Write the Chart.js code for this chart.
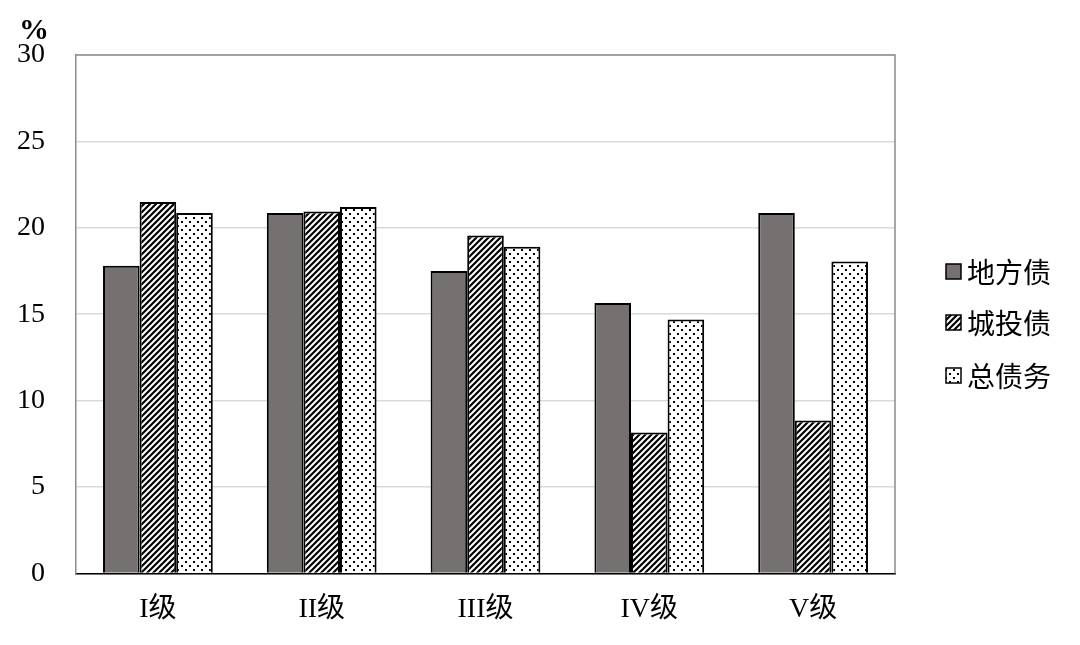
<!DOCTYPE html>
<html>
<head>
<meta charset="utf-8">
<script src="https://cdn.jsdelivr.net/npm/chart.js@4/dist/chart.umd.min.js"></script>
<style>
  html, body { margin: 0; padding: 0; background: #fff; }
  #wrap { width: 1080px; height: 645px; position: relative; }
</style>
</head>
<body>
<div id="wrap"><canvas id="debtChart"></canvas></div>
<script>
var categories = ['I级', 'II级', 'III级', 'IV级', 'V级'];
var seriesNames = ['地方债', '城投债', '总债务'];
var localDebt = [17.8, 20.85, 17.5, 15.65, 20.85];
var urbanDebt = [21.5, 20.95, 19.55, 8.15, 8.85];
var totalDebt = [20.85, 21.2, 18.9, 14.7, 18.05];
var yTicks = [0, 5, 10, 15, 20, 25, 30];

var FONT = '"Liberation Serif", "Noto Sans CJK SC", serif';

function stripePattern() {
    var c = document.createElement('canvas');
    c.width = 6; c.height = 6;
    var g = c.getContext('2d');
    g.fillStyle = '#fff';
    g.fillRect(0, 0, 6, 6);
    g.strokeStyle = '#000';
    g.lineWidth = 2.2;
    g.beginPath();
    g.moveTo(-3, 3); g.lineTo(3, -3);
    g.moveTo(0, 6); g.lineTo(6, 0);
    g.moveTo(3, 9); g.lineTo(9, 3);
    g.stroke();
    return g.createPattern(c, 'repeat');
}

function dotPattern() {
    var c = document.createElement('canvas');
    c.width = 8; c.height = 8;
    var g = c.getContext('2d');
    g.fillStyle = '#fff';
    g.fillRect(0, 0, 8, 8);
    g.fillStyle = '#000';
    g.fillRect(1, 1, 2, 2);
    g.fillRect(5, 5, 2, 2);
    return g.createPattern(c, 'repeat');
}

var fills = ['#767171', stripePattern(), dotPattern()];

var framePlugin = {
    id: 'frame',
    afterDraw: function (chart) {
        var ctx = chart.ctx;
        var a = chart.chartArea;
        ctx.save();
        // top and right border
        ctx.strokeStyle = '#8c8c8c';
        ctx.lineWidth = 1.5;
        ctx.beginPath();
        ctx.moveTo(a.left, a.top);
        ctx.lineTo(a.right, a.top);
        ctx.lineTo(a.right, a.bottom);
        ctx.stroke();
        // unit label
        ctx.fillStyle = '#000';
        ctx.font = 'bold 30px ' + FONT;
        ctx.textAlign = 'center';
        ctx.textBaseline = 'alphabetic';
        ctx.fillText('%', 34, 39);
        // legend
        ctx.font = '28px "Noto Sans CJK SC", sans-serif';
        ctx.textAlign = 'left';
        ctx.textBaseline = 'middle';
        var ys = [272, 323, 376];
        chart.data.datasets.forEach(function (ds, i) {
            var y = ys[i];
            ctx.fillStyle = ds.backgroundColor;
            ctx.fillRect(946, y - 8, 15, 15);
            ctx.strokeStyle = '#000';
            ctx.lineWidth = 1.5;
            ctx.strokeRect(946, y - 8, 15, 15);
            ctx.fillStyle = '#000';
            ctx.fillText(ds.label, 967, y);
        });
        ctx.restore();
    }
};

new Chart(document.getElementById('debtChart'), {
    type: 'bar',
    data: {
        labels: categories,
        datasets: [
            { label: seriesNames[0], data: localDebt, backgroundColor: fills[0] },
            { label: seriesNames[1], data: urbanDebt, backgroundColor: fills[1] },
            { label: seriesNames[2], data: totalDebt, backgroundColor: fills[2] }
        ]
    },
    options: {
        responsive: true,
        maintainAspectRatio: false,
        animation: false,
        layout: { padding: { left: -14, right: 185, top: 55, bottom: 0 } },
        datasets: {
            bar: {
                borderColor: '#000',
                borderWidth: 2,
                barPercentage: 1,
                categoryPercentage: 0.67
            }
        },
        plugins: {
            legend: { display: false },
            tooltip: { enabled: false }
        },
        scales: {
            x: {
                grid: { display: false, drawTicks: false },
                border: { display: true, color: '#000', width: 1.5 },
                ticks: {
                    color: '#000',
                    padding: 19,
                    font: { family: FONT, size: 28 }
                }
            },
            y: {
                min: 0,
                max: 30,
                afterBuildTicks: function (axis) {
                    axis.ticks = yTicks.map(function (v) { return { value: v }; });
                },
                grid: { color: '#d9d9d9', lineWidth: 1.5, drawTicks: false },
                border: { display: true, color: '#8c8c8c', width: 1.5 },
                ticks: {
                    color: '#000',
                    padding: 31,
                    font: { family: FONT, size: 28 }
                }
            }
        }
    },
    plugins: [framePlugin]
});
</script>
</body>
</html>
